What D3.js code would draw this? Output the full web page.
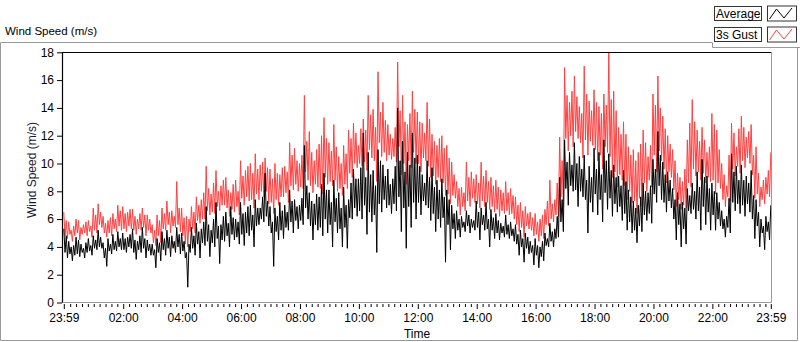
<!DOCTYPE html>
<html>
<head>
<meta charset="utf-8">
<script src="https://cdn.jsdelivr.net/npm/d3@7/dist/d3.min.js"></script>
<style>
  html, body { margin: 0; padding: 0; background: #fff; }
  svg { display: block; font-family: "Liberation Sans", Arial, sans-serif; }
</style>
</head>
<body>
<svg id="chart" width="800" height="342"></svg>
<script>
// ---- Data (2.5-minute samples, 23:59 -> 23:59) ----
const seriesNames = ["Average", "3s Gust"];
const averageValues = [
  5.3, 3.6, 4.8, 3.2, 4.4, 3.5, 4.0, 3.0, 4.1, 3.4, 4.7, 3.5,
  4.5, 3.3, 4.2, 3.6, 3.9, 3.2, 4.3, 3.6, 4.6, 3.7, 4.1, 3.4,
  4.8, 3.9, 4.5, 3.8, 5.2, 4.0, 4.7, 3.9, 4.3, 3.2, 3.9, 2.6,
  4.6, 3.7, 4.2, 3.5, 4.9, 3.8, 4.4, 3.7, 5.1, 4.0, 4.6, 3.8,
  5.0, 3.8, 4.6, 3.6, 4.7, 4.0, 4.9, 3.9, 5.3, 3.6, 4.5, 3.1,
  4.4, 3.8, 4.8, 3.6, 5.4, 3.9, 4.6, 3.2, 4.5, 3.7, 4.2, 3.4,
  4.2, 3.4, 3.8, 2.5, 4.6, 3.6, 4.3, 3.0, 5.1, 3.8, 4.6, 3.4,
  5.2, 3.9, 4.7, 3.3, 4.8, 3.9, 4.4, 3.6, 5.4, 4.0, 4.9, 3.5,
  5.0, 3.7, 4.4, 3.2, 3.6, 1.1, 4.2, 3.6, 5.4, 3.9, 4.8, 3.4,
  5.7, 4.2, 5.1, 3.2, 5.3, 4.3, 5.8, 4.1, 6.9, 4.4, 5.6, 3.3,
  5.2, 4.3, 6.0, 4.0, 7.2, 4.6, 5.5, 2.8, 5.6, 4.5, 6.2, 4.4,
  6.5, 4.8, 5.7, 4.0, 6.9, 4.9, 6.1, 4.5, 6.0, 4.7, 5.8, 4.2,
  7.2, 4.9, 6.4, 4.1, 6.5, 5.0, 6.9, 4.8, 7.0, 5.2, 6.3, 4.0,
  7.4, 5.5, 6.8, 5.6, 6.8, 6.0, 7.6, 5.8, 9.3, 6.2, 7.3, 5.5,
  6.9, 5.0, 5.8, 2.6, 6.8, 5.1, 6.2, 4.5, 7.2, 5.2, 6.6, 4.6,
  7.0, 5.4, 6.5, 5.2, 8.1, 5.8, 7.3, 5.0, 7.4, 5.9, 6.9, 5.3,
  7.0, 5.9, 7.5, 5.6, 11.3, 6.8, 8.4, 6.0, 7.9, 5.5, 7.3, 4.5,
  7.1, 5.6, 7.8, 5.2, 7.6, 5.4, 8.5, 4.8, 9.3, 6.0, 8.1, 5.0,
  8.1, 5.6, 7.2, 4.0, 8.8, 5.8, 7.5, 5.0, 7.9, 5.3, 6.8, 4.0,
  8.3, 5.4, 7.0, 3.9, 7.4, 6.1, 8.6, 6.0, 9.6, 6.8, 8.9, 6.2,
  8.9, 6.6, 9.7, 6.0, 12.2, 7.0, 9.0, 4.9, 10.8, 6.5, 9.2, 5.8,
  9.5, 6.3, 8.4, 3.6, 11.0, 7.1, 10.2, 6.5, 9.9, 7.4, 9.1, 6.8,
  9.6, 7.0, 8.5, 6.4, 8.9, 7.1, 9.8, 6.6, 14.0, 7.6, 10.2, 5.1,
  11.6, 6.8, 9.4, 3.9, 10.8, 6.9, 9.9, 5.4, 12.2, 7.2, 10.4, 6.0,
  10.6, 7.2, 9.8, 6.3, 9.2, 7.3, 8.6, 7.0, 10.2, 6.8, 9.0, 5.9,
  9.7, 6.4, 8.3, 5.1, 8.8, 6.0, 8.1, 5.4, 8.9, 6.1, 7.6, 2.9,
  8.1, 5.6, 7.4, 3.8, 7.0, 5.3, 6.4, 4.6, 6.6, 5.2, 6.0, 4.7,
  6.2, 5.4, 5.8, 5.1, 6.6, 5.5, 6.3, 5.0, 6.0, 5.4, 5.9, 5.2,
  7.3, 5.4, 6.5, 4.5, 6.8, 5.6, 6.3, 5.2, 7.2, 5.3, 6.0, 4.0,
  6.7, 5.2, 6.1, 4.6, 6.4, 5.0, 5.9, 4.5, 5.7, 5.0, 5.5, 4.7,
  6.3, 4.9, 5.6, 4.6, 5.8, 4.8, 5.3, 4.4, 5.6, 4.2, 4.9, 3.4,
  5.2, 4.0, 4.6, 2.9, 5.0, 3.9, 4.7, 3.5, 4.4, 3.6, 4.1, 2.7,
  4.6, 3.4, 4.1, 2.5, 4.0, 3.3, 4.4, 3.0, 5.0, 4.1, 4.6, 4.0,
  5.7, 4.4, 5.1, 4.0, 5.3, 4.6, 6.2, 4.7, 9.0, 5.8, 7.4, 5.1,
  11.7, 8.2, 10.1, 7.0, 10.8, 8.4, 9.9, 8.0, 11.5, 8.1, 10.0, 6.9,
  10.5, 8.0, 9.6, 7.6, 10.6, 7.4, 8.8, 5.0, 9.8, 7.2, 9.0, 6.5,
  11.1, 7.8, 9.6, 6.3, 10.8, 7.4, 9.2, 5.8, 11.7, 7.9, 10.2, 6.7,
  10.7, 7.5, 9.5, 6.2, 9.9, 7.1, 9.0, 6.5, 9.1, 6.9, 8.4, 5.9,
  9.5, 6.4, 8.7, 5.2, 8.1, 5.8, 7.6, 5.0, 7.3, 5.2, 6.8, 4.3,
  7.0, 5.5, 7.6, 5.1, 8.6, 6.3, 8.0, 5.9, 7.9, 6.4, 8.4, 5.7,
  10.3, 7.8, 9.6, 7.2, 12.3, 8.4, 10.6, 7.4, 10.1, 7.2, 9.2, 6.5,
  9.4, 7.3, 8.8, 6.8, 8.2, 6.0, 7.4, 4.5, 7.9, 5.6, 7.1, 4.0,
  7.2, 5.3, 6.8, 4.2, 8.2, 6.6, 7.7, 6.4, 8.6, 6.7, 8.0, 6.0,
  9.4, 6.6, 8.3, 5.2, 10.3, 6.9, 9.0, 5.6, 9.1, 6.5, 8.2, 5.2,
  8.6, 6.3, 8.0, 5.2, 7.9, 6.0, 7.2, 5.5, 6.6, 5.3, 6.0, 4.7,
  6.2, 5.4, 7.5, 5.0, 10.7, 7.2, 9.4, 6.6, 9.8, 7.1, 8.8, 6.4,
  9.9, 7.0, 8.8, 6.2, 9.1, 7.1, 8.6, 6.5, 9.5, 6.0, 7.7, 4.6,
  7.4, 5.5, 6.5, 4.0, 6.0, 5.0, 5.5, 3.8, 6.2, 5.1, 5.8, 4.5,
  7.0
];
const gustValues = [
  6.5, 4.8, 5.9, 4.6, 5.8, 4.9, 5.2, 4.4, 5.5, 4.8, 6.0, 5.0,
  5.9, 4.5, 5.4, 4.9, 5.6, 5.0, 5.8, 4.8, 5.9, 5.1, 5.5, 4.7,
  6.8, 5.2, 6.3, 5.0, 7.1, 5.6, 6.5, 5.4, 6.2, 5.0, 5.7, 4.7,
  5.9, 5.0, 6.1, 4.8, 6.4, 5.3, 6.0, 5.1, 7.0, 5.5, 6.6, 5.2,
  6.9, 5.3, 6.4, 5.1, 6.5, 5.5, 6.7, 5.3, 6.7, 5.2, 6.2, 4.9,
  6.0, 5.3, 6.4, 5.2, 6.8, 5.4, 6.3, 4.8, 6.3, 5.2, 6.0, 5.0,
  5.6, 4.3, 5.2, 4.1, 6.3, 4.8, 5.9, 4.3, 6.8, 5.3, 6.4, 5.2,
  7.3, 5.6, 6.5, 5.0, 6.6, 5.5, 6.2, 5.4, 8.7, 5.6, 6.8, 5.1,
  6.8, 4.8, 6.1, 4.2, 6.2, 4.0, 6.0, 5.1, 6.9, 5.3, 6.5, 5.0,
  7.6, 5.9, 7.0, 5.7, 7.4, 6.0, 7.9, 6.0, 9.8, 6.6, 8.2, 6.3,
  7.8, 6.5, 8.6, 6.4, 9.5, 6.9, 8.0, 6.6, 8.4, 7.0, 8.8, 7.0,
  9.0, 6.8, 8.1, 6.2, 7.9, 6.7, 8.5, 6.5, 8.8, 6.9, 8.0, 6.3,
  10.2, 7.5, 9.1, 7.0, 9.5, 7.6, 9.8, 7.3, 10.0, 7.4, 9.3, 6.8,
  10.7, 7.8, 9.6, 7.4, 9.9, 8.0, 10.1, 7.6, 10.4, 8.0, 9.7, 7.1,
  9.6, 7.2, 8.9, 6.4, 10.0, 7.4, 9.3, 7.0, 9.2, 7.6, 9.7, 7.6,
  9.8, 7.9, 9.4, 7.2, 11.5, 8.4, 10.6, 8.1, 11.1, 8.5, 10.2, 8.0,
  10.0, 8.3, 10.6, 8.2, 14.9, 9.4, 11.6, 8.8, 12.3, 8.4, 10.8, 7.9,
  10.2, 8.5, 11.0, 8.3, 11.4, 8.2, 12.0, 7.8, 13.3, 9.0, 11.8, 8.5,
  11.5, 8.7, 10.9, 8.4, 12.8, 8.8, 11.2, 8.0, 10.5, 8.2, 10.0, 7.7,
  11.3, 8.5, 10.7, 8.2, 12.4, 9.3, 11.8, 9.0, 12.9, 10.0, 12.2, 9.7,
  11.3, 10.0, 12.5, 9.8, 13.2, 10.1, 12.4, 9.5, 14.9, 11.0, 13.5, 10.4,
  13.9, 10.2, 12.6, 8.7, 16.6, 11.5, 13.7, 10.5, 14.4, 10.8, 13.1, 10.2,
  12.8, 10.6, 12.1, 10.3, 11.8, 10.5, 12.6, 10.1, 17.3, 11.2, 13.8, 9.2,
  14.9, 10.0, 13.0, 8.5, 12.8, 10.2, 13.6, 9.7, 15.2, 10.8, 13.9, 10.0,
  13.7, 10.0, 13.0, 9.4, 12.9, 10.4, 12.2, 10.2, 14.4, 9.8, 13.2, 9.0,
  12.1, 9.1, 11.6, 8.5, 11.3, 9.0, 11.8, 8.7, 12.0, 8.6, 11.1, 7.7,
  11.3, 7.8, 10.4, 7.1, 10.1, 7.7, 9.2, 7.5, 8.7, 6.9, 8.2, 6.3,
  8.3, 6.9, 7.9, 6.6, 10.1, 7.3, 9.0, 6.9, 9.4, 7.5, 8.9, 7.2,
  9.2, 7.1, 8.6, 6.8, 10.1, 7.3, 9.1, 6.9, 9.5, 7.2, 8.7, 6.7,
  9.0, 6.9, 8.4, 6.5, 8.8, 6.7, 8.3, 6.2, 8.1, 6.6, 7.9, 6.4,
  8.7, 6.6, 7.9, 6.3, 8.2, 6.4, 7.7, 6.0, 7.6, 5.6, 7.0, 5.1,
  7.2, 5.4, 6.6, 4.7, 6.9, 5.5, 6.4, 5.3, 6.5, 5.2, 6.1, 4.8,
  6.4, 4.9, 5.8, 4.4, 6.0, 4.8, 6.3, 4.6, 6.7, 5.6, 7.3, 5.5,
  8.8, 6.0, 7.1, 5.8, 7.4, 6.3, 8.6, 6.2, 11.9, 7.6, 10.2, 6.9,
  16.9, 11.8, 14.9, 10.9, 14.4, 12.0, 15.2, 11.2, 16.3, 12.3, 14.8, 11.8,
  14.1, 11.5, 13.6, 10.4, 17.0, 11.7, 15.0, 10.6, 14.5, 11.6, 13.8, 11.3,
  15.3, 11.0, 14.4, 10.2, 14.1, 10.6, 13.6, 9.6, 15.0, 11.2, 14.2, 10.8,
  18.0, 10.5, 14.6, 9.0, 15.2, 9.4, 13.8, 8.3, 12.6, 9.2, 12.1, 8.8,
  13.0, 8.4, 12.1, 7.4, 11.2, 8.0, 10.6, 7.2, 11.0, 7.3, 10.2, 6.4,
  10.8, 7.5, 11.4, 6.9, 12.4, 8.6, 11.5, 8.0, 10.5, 8.8, 11.3, 8.3,
  15.0, 10.6, 14.2, 9.4, 16.3, 10.9, 14.0, 10.2, 13.4, 9.6, 12.5, 8.6,
  12.0, 9.4, 11.4, 9.0, 11.0, 8.1, 10.2, 6.9, 9.3, 7.4, 9.0, 6.7,
  8.7, 7.0, 9.6, 6.8, 11.7, 8.6, 12.9, 8.3, 14.6, 9.6, 13.0, 9.1,
  12.4, 9.4, 11.6, 8.8, 12.6, 9.3, 11.7, 8.6, 10.8, 9.0, 11.2, 8.7,
  13.6, 8.8, 12.8, 7.8, 12.4, 8.6, 11.0, 8.2, 10.0, 7.4, 9.2, 6.9,
  8.4, 7.6, 10.6, 7.3, 12.9, 9.6, 12.2, 9.1, 11.2, 9.8, 12.5, 9.3,
  13.4, 10.2, 12.6, 9.7, 11.9, 10.4, 12.3, 10.0, 12.8, 9.2, 10.6, 7.5,
  11.2, 7.8, 9.3, 6.9, 8.3, 7.4, 8.8, 7.1, 9.0, 7.8, 9.5, 7.6,
  10.8
];
const xTickLabels = ["23:59", "02:00", "04:00", "06:00", "08:00", "10:00", "12:00",
                     "14:00", "16:00", "18:00", "20:00", "22:00", "23:59"];
const yTickValues = [0, 2, 4, 6, 8, 10, 12, 14, 16, 18];
const sampleMinutes = 2.5;

// ---- Layout ----
const svg = d3.select("#chart");
const t0 = new Date(2020, 0, 1, 23, 59);
const t1 = new Date(t0.getTime() + 24 * 3600 * 1000);
const pL = 62, pR = 771.5, pT = 52, pB = 303;

const x = d3.scaleTime().domain([t0, t1]).range([63.8, 770.8]);
const y = d3.scaleLinear().domain([0, 18]).range([302.5, 52.3]);

const timeAt = i => new Date(t0.getTime() + i * sampleMinutes * 60000);
const avgData = averageValues.map((v, i) => ({ t: timeAt(i), v }));
const gustData = gustValues.map((v, i) => ({ t: timeAt(i), v }));

// outer panel frame
const panel = svg.append("g").attr("stroke", "#9a9a9a").attr("fill", "none");
panel.append("path").attr("d", "M0.5,340.5 V42.5 H712.5 V47.5 H800");
panel.append("path").attr("d", "M0.5,340.5 H797.5 V47.5");

// title
svg.append("text").attr("x", 5).attr("y", 35).attr("font-size", 11.5).attr("fill", "#000")
  .text("Wind Speed (m/s)");

// plot background
svg.append("rect").attr("x", pL).attr("y", pT).attr("width", pR - pL).attr("height", pB - pT)
  .attr("fill", "#fff");

svg.append("clipPath").attr("id", "clip").append("rect")
  .attr("x", pL + 1).attr("y", pT + 1).attr("width", pR - pL - 1.5).attr("height", pB - pT - 1.5);

const line = d3.line().x(d => x(d.t)).y(d => y(d.v));
const plotG = svg.append("g").attr("clip-path", "url(#clip)");
plotG.append("path").datum(gustData).attr("d", line).attr("fill", "none")
  .attr("stroke", "#ff4040").attr("stroke-width", 1);
plotG.append("path").datum(avgData).attr("d", line).attr("fill", "none")
  .attr("stroke", "#000").attr("stroke-width", 1);

// plot frame: top/left dark, bottom/right gray
svg.append("path").attr("d", `M${pL + 0.5},${pB} V${pT + 0.5} H${pR}`)
  .attr("stroke", "#000").attr("stroke-width", 1.2).attr("fill", "none");
svg.append("path").attr("d", `M${pL + 0.5},${pB - 0.5} H${pR} V${pT + 0.5}`)
  .attr("stroke", "#9a9a9a").attr("stroke-width", 1).attr("fill", "none");

// x axis
const majorTimes = xTickLabels.map((lab, i) => {
  if (i === 0) return t0;
  if (i === xTickLabels.length - 1) return t1;
  return new Date(2020, 0, 2, +lab.slice(0, 2), 0);
});
const minorTimes = [];
for (let m = 12; m < 24 * 60; m += 12) {
  if (m % 120 !== 0) minorTimes.push(new Date(2020, 0, 2, 0, m));
}
const xMinor = svg.append("g").attr("transform", `translate(0,${pB + 1})`)
  .call(d3.axisBottom(x).tickValues(minorTimes).tickSize(3).tickFormat(""));
xMinor.select(".domain").remove();
const xMajor = svg.append("g").attr("transform", `translate(0,${pB + 1})`)
  .call(d3.axisBottom(x).tickValues(majorTimes).tickSize(5).tickPadding(4)
    .tickFormat((d, i) => xTickLabels[i]));
xMajor.select(".domain").remove();
xMajor.selectAll("text").attr("font-size", 12).attr("fill", "#000").attr("font-family", "Liberation Sans, Arial, sans-serif");
svg.selectAll(".tick line").attr("stroke", "#000");

// y axis
const yAx = svg.append("g").attr("transform", `translate(${pL},0)`)
  .call(d3.axisLeft(y).tickValues(yTickValues).tickSize(5).tickPadding(3));
yAx.select(".domain").remove();
yAx.selectAll("text").attr("font-size", 12).attr("fill", "#000").attr("font-family", "Liberation Sans, Arial, sans-serif");
yAx.selectAll(".tick line").attr("stroke", "#000");

// axis titles
svg.append("text").attr("transform", "translate(36,170) rotate(-90)")
  .attr("text-anchor", "middle").attr("font-size", 12).attr("fill", "#1a1a3a")
  .text("Wind Speed (m/s)");
svg.append("text").attr("x", 417).attr("y", 338).attr("text-anchor", "middle")
  .attr("font-size", 12).attr("fill", "#000").text("Time");

// legend
const legColors = ["#000", "#ff4040"];
const legY = [6.5, 27.5];
seriesNames.forEach((name, i) => {
  const g = svg.append("g").attr("transform", `translate(0,${legY[i]})`);
  g.append("rect").attr("x", 714.5).attr("y", 0).attr("width", 47).attr("height", 14)
    .attr("fill", "#fff").attr("stroke", "#333");
  g.append("text").attr("x", 716).attr("y", 11.5).attr("font-size", 12).attr("fill", "#000").text(name);
  g.append("rect").attr("x", 767.5).attr("y", -0.5).attr("width", 29).attr("height", 15)
    .attr("fill", "#fff").attr("stroke", "#333");
  g.append("path").attr("d", "M769.5,12.5 L776.5,2.5 L784,11.5 L792,1.5")
    .attr("fill", "none").attr("stroke", legColors[i]).attr("stroke-width", 1);
});
</script>
</body>
</html>
